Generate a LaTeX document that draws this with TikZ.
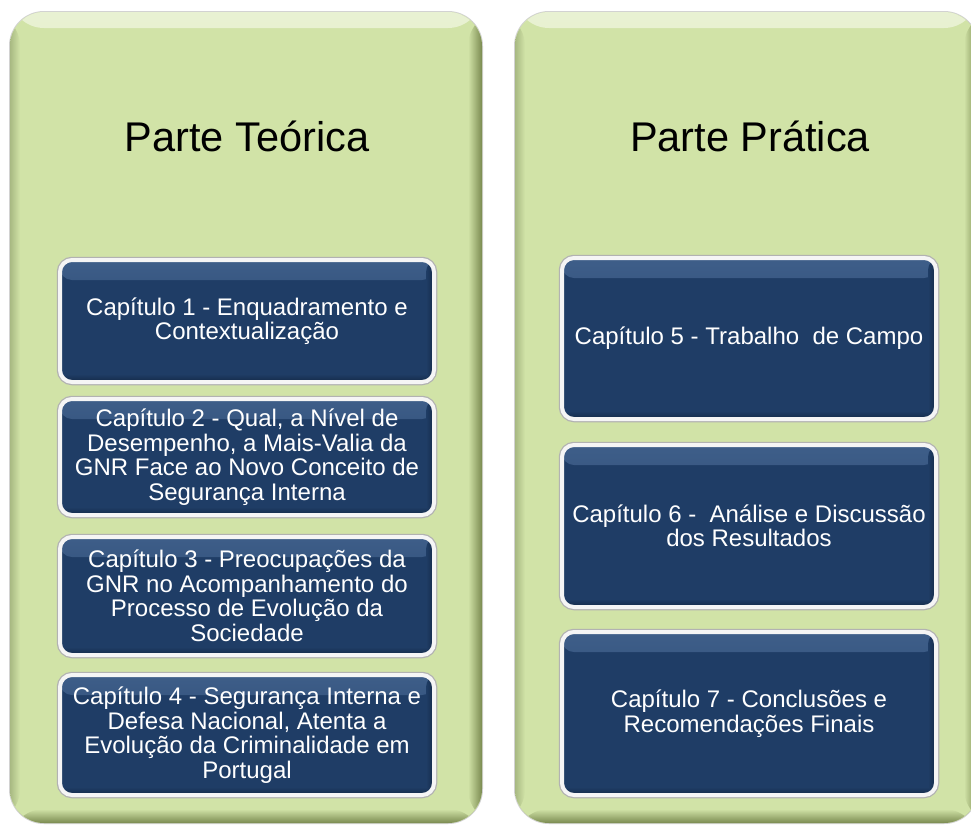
\documentclass[tikz,border=0pt]{standalone}
\usepackage{fontspec}
\setmainfont{Liberation Sans}
\definecolor{panelgreen}{HTML}{D1E3A7}
\definecolor{panellight}{HTML}{E8F1D2}
\definecolor{paneldark}{HTML}{7A8A50}
\definecolor{panelshade}{HTML}{A8B982}
\definecolor{boxblue}{HTML}{1F3D66}
\definecolor{boxlight}{HTML}{3F5F8A}
\definecolor{boxdark}{HTML}{142A48}
\begin{document}
\begin{tikzpicture}[x=1pt,y=-1pt,
  panel/.style={rounded corners=34pt, fill=panelgreen, inner sep=0pt,
    preaction={draw=gray!35, line width=2pt},
    path picture={
      \shade[top color=panellight, bottom color=panelgreen]
        (path picture bounding box.north west) rectangle ([yshift=-16pt]path picture bounding box.north east);
      \shade[left color=panelshade, right color=panelgreen]
        (path picture bounding box.north west) rectangle ([xshift=10pt]path picture bounding box.south west);
      \shade[left color=panelgreen, right color=paneldark]
        ([xshift=-14pt]path picture bounding box.north east) rectangle (path picture bounding box.south east);
      \shade[top color=panelgreen, bottom color=paneldark]
        ([yshift=14pt]path picture bounding box.south west) rectangle (path picture bounding box.south east);
    }},
  titletext/.style={font=\fontsize{41.5}{45}\selectfont, text=black, anchor=base, inner sep=0pt},
  chap/.style={rounded corners=12pt, fill=boxblue, draw=white!92!gray, line width=4pt,
    preaction={draw=gray!60, line width=6.5pt},
    text=white, font=\fontsize{24}{24.5}\selectfont, align=center, inner sep=0pt,
    minimum width=374pt,
    path picture={
      \shade[top color=boxlight, bottom color=boxblue]
        ([yshift=4pt]path picture bounding box.north west) rectangle ([yshift=-20pt]path picture bounding box.north east);
      \shade[left color=boxblue, right color=boxdark]
        ([xshift=-8pt]path picture bounding box.north east) rectangle (path picture bounding box.south east);
      \shade[top color=boxblue, bottom color=boxdark]
        ([yshift=8pt]path picture bounding box.south west) rectangle (path picture bounding box.south east);
    }}]
\useasboundingbox (0,0) rectangle (971,827);
\fill[white] (0,0) rectangle (971,827);

\node[panel, minimum width=472pt, minimum height=811pt] (pleft) at (246,417.5) {};
\node[panel, minimum width=463pt, minimum height=811pt] (pright) at (746.5,417.5) {};

\node[titletext] (tleft) at (247,151) {Parte Teórica};
\node[titletext] (tright) at (750,151) {Parte Prática};

\node[chap, minimum height=122pt] (c1) at (247,321) {Capítulo 1 - Enquadramento e\\Contextualização};
\node[chap, minimum height=116pt] (c2) at (247,457) {Capítulo 2 - Qual, a Nível de\\Desempenho, a Mais-Valia da\\GNR Face ao Novo Conceito de\\Segurança Interna};
\node[chap, minimum height=118pt] (c3) at (247,596) {Capítulo 3 - Preocupações da\\GNR no Acompanhamento do\\Processo de Evolução da\\Sociedade};
\node[chap, minimum height=120pt] (c4) at (247,735) {Capítulo 4 - Segurança Interna e\\Defesa Nacional, Atenta a\\Evolução da Criminalidade em\\Portugal};

\node[chap, minimum height=161pt] (c5) at (749,338.5) {Capítulo 5 - Trabalho\ \ de Campo};
\node[chap, minimum height=162pt] (c6) at (749,526) {Capítulo 6 -\ \ Análise e Discussão\\dos Resultados};
\node[chap, minimum height=163pt] (c7) at (749,713.5) {Capítulo 7 - Conclusões e\\Recomendações Finais};
\end{tikzpicture}
\end{document}
